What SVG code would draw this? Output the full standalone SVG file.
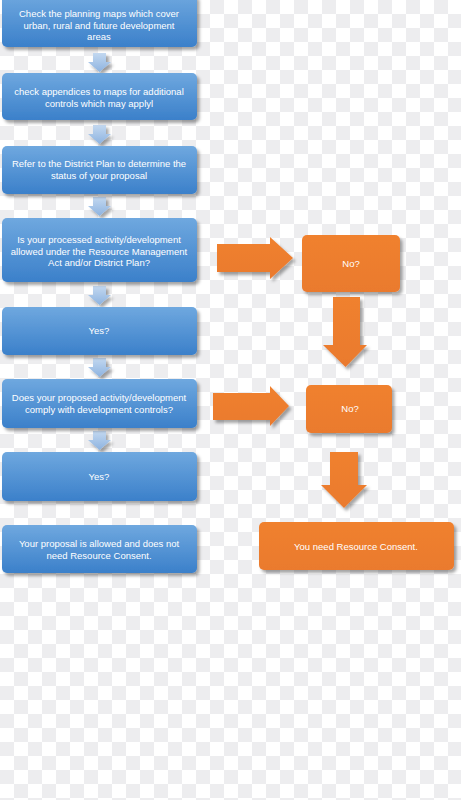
<svg xmlns="http://www.w3.org/2000/svg" width="461" height="800" viewBox="0 0 461 800">
<defs>
<pattern id="chk" width="28" height="28" patternUnits="userSpaceOnUse">
<rect width="28" height="28" fill="#ffffff"/>
<rect x="14" y="0" width="14" height="14" fill="#ededef"/>
<rect x="0" y="14" width="14" height="14" fill="#ededef"/>
</pattern>
<linearGradient id="blue" x1="0" y1="0" x2="0" y2="1">
<stop offset="0" stop-color="#6fa8df"/>
<stop offset="1" stop-color="#3b80ca"/>
</linearGradient>
<linearGradient id="lblue" x1="0" y1="0" x2="0" y2="1">
<stop offset="0" stop-color="#c3d8f0"/>
<stop offset="1" stop-color="#8db3e0"/>
</linearGradient>
<linearGradient id="orange" x1="0" y1="0" x2="0" y2="1">
<stop offset="0" stop-color="#f0812f"/>
<stop offset="1" stop-color="#ea7a2f"/>
</linearGradient>
<filter id="sh" x="-10%" y="-10%" width="130%" height="140%">
<feDropShadow dx="2.5" dy="3" stdDeviation="1.8" flood-color="#000" flood-opacity="0.35"/>
</filter>
<path id="barrow" d="M -6.5 0 H 6.5 V 9 H 11.5 L 0 19 L -11.5 9 H -6.5 Z"/>
</defs>
<style>
.bbox{fill:url(#blue);filter:url(#sh)}
.obox{fill:url(#orange);filter:url(#sh)}
.oarr{fill:url(#orange);filter:url(#sh)}
.barr{fill:url(#lblue);filter:url(#sh)}
text{font-family:"Liberation Sans",Arial,sans-serif;font-size:9.5px;fill:#ffffff;text-anchor:middle}
</style>
<rect width="461" height="800" fill="url(#chk)"/>
<g id="connectors">
<use href="#barrow" class="barr" x="99.5" y="53"/>
<use href="#barrow" class="barr" x="99.5" y="125"/>
<use href="#barrow" class="barr" x="99.5" y="197"/>
<use href="#barrow" class="barr" x="99.5" y="286"/>
<use href="#barrow" class="barr" x="99.5" y="358"/>
<use href="#barrow" class="barr" x="99.5" y="431"/>
<path class="oarr" d="M 217 244 H 270 V 237 L 293 258 L 270 279 V 272 H 217 Z"/>
<path class="oarr" d="M 213 393 H 270 V 386 L 289 406 L 270 426 V 420 H 213 Z"/>
<path class="oarr" d="M 333 297 H 360 V 345 H 367 L 345.5 367 L 323 345 H 333 Z"/>
<path class="oarr" d="M 330 452 H 358 V 485 H 367 L 344 508 L 321 485 H 330 Z"/>
</g>
<g id="n1">
<rect class="bbox" x="2" y="-6" width="195" height="53" rx="5"/>
<text x="99" y="16.5">Check the planning maps which cover</text>
<text x="99" y="28.5">urban, rural and future development</text>
<text x="99" y="40">areas</text>
</g>
<g id="n2">
<rect class="bbox" x="2" y="73" width="195" height="47" rx="5"/>
<text x="99" y="94.5">check appendices to maps for additional</text>
<text x="99" y="106.5">controls which may applyl</text>
</g>
<g id="n3">
<rect class="bbox" x="2" y="146" width="195" height="48" rx="5"/>
<text x="99" y="166.5">Refer to the District Plan to determine the</text>
<text x="99" y="178.5">status of your proposal</text>
</g>
<g id="n4">
<rect class="bbox" x="2" y="218" width="195" height="64" rx="5"/>
<text x="99" y="242.5">Is your processed activity/development</text>
<text x="99" y="254.5">allowed under the Resource Management</text>
<text x="99" y="266">Act and/or District Plan?</text>
</g>
<g id="n5">
<rect class="bbox" x="2" y="307" width="195" height="48" rx="5"/>
<text x="99" y="334">Yes?</text>
</g>
<g id="n6">
<rect class="bbox" x="2" y="379" width="195" height="49" rx="5"/>
<text x="99" y="400.5">Does your proposed activity/development</text>
<text x="99" y="412.5">comply with development controls?</text>
</g>
<g id="n7">
<rect class="bbox" x="2" y="452" width="195" height="49" rx="5"/>
<text x="99" y="480">Yes?</text>
</g>
<g id="n8">
<rect class="bbox" x="2" y="525" width="195" height="48" rx="5"/>
<text x="99" y="546.5">Your proposal is allowed and does not</text>
<text x="99" y="558.5">need Resource Consent.</text>
</g>
<g id="n9">
<rect class="obox" x="302" y="235" width="98" height="57" rx="5"/>
<text x="351" y="267">No?</text>
</g>
<g id="n10">
<rect class="obox" x="306" y="385" width="86" height="48" rx="5"/>
<text x="350" y="412">No?</text>
</g>
<g id="n11">
<rect class="obox" x="259" y="522" width="195" height="48" rx="5"/>
<text x="356" y="549.5">You need Resource Consent.</text>
</g>
</svg>
